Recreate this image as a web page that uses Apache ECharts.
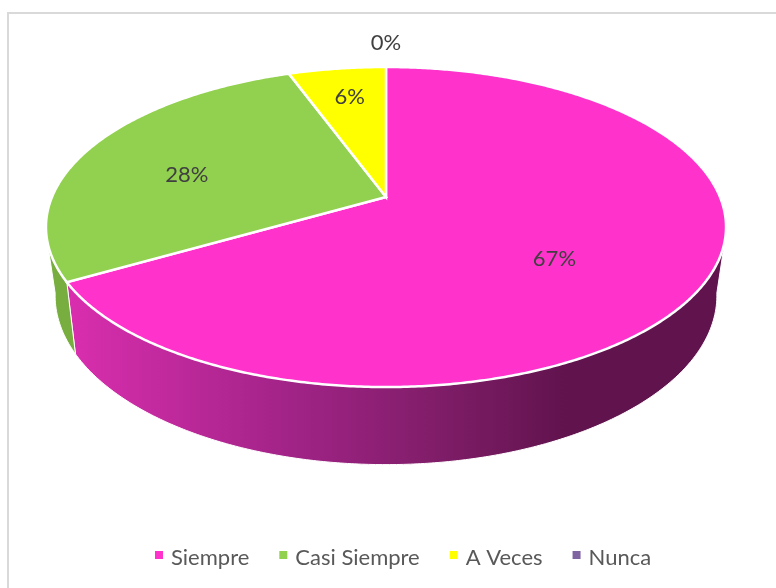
<!DOCTYPE html>
<html>
<head>
<meta charset="utf-8">
<style>
  html, body { margin: 0; padding: 0; background: #fff; }
  #chart { width: 776px; height: 588px; }
</style>
<script src="https://cdn.jsdelivr.net/npm/echarts@6/dist/echarts.min.js"></script>
</head>
<body>
<div id="chart"></div>
<script>
// survey answers, the picture shows them as rounded percentages
var categories = ['Siempre', 'Casi Siempre', 'A Veces', 'Nunca']
var answers = [12, 5, 1, 0]

var colors = ['#ff33cc', '#92d050', '#ffff00', '#8064a2']
var labelColor = '#404040'
var legendColor = '#595959'

// tilted disc: perspective of the top and bottom faces of the cylinder
var cx = 386
var tilt = 0.1875
var topFace = { y: 197, a: 154.4, b: 334 }
var bottomFace = { y: 264, a: 163, b: 325 }
var wallRight = [105, 100] // angle where the wall leaves the silhouette, top / bottom face
var wallLeft = [255, 260]

// label placement per slice, as radius fraction and angle shift
var labelRadius = [0.6, 0.63, 0.75, 1.225]
var labelShift = [8.6, -6.6, 0.5, 0]

var total = answers.reduce(function (s, v) { return s + v }, 0)

function project (face, deg, r) {
  var t = deg * Math.PI / 180
  var u = r * Math.sin(t)
  var v = r * Math.cos(t)
  var d = 1 + tilt * v
  return [cx + face.b * u / d, face.y - face.a * v / d]
}

function arc (face, from, to) {
  var pts = []
  var n = Math.max(1, Math.ceil(Math.abs(to - from) * 2))
  for (var i = 0; i <= n; i++) {
    pts.push(project(face, from + (to - from) * i / n, 1))
  }
  return pts
}

function sliceStart (index) {
  var s = 0
  for (var i = 0; i < index; i++) s += answers[i]
  return s / total * 360
}

function renderSlice (index) {
  return function (params, api) {
    var value = api.value(0)
    var start = sliceStart(index)
    var end = start + value / total * 360
    var children = []

    if (value > 0) {
      // front wall, only the part of the slice facing us
      var topFrom = Math.max(start, wallRight[0])
      var topTo = Math.min(end, wallLeft[0])
      if (topFrom < topTo) {
        var bottomFrom = start > wallRight[0] ? start : wallRight[1]
        var bottomTo = end < wallLeft[0] ? end : wallLeft[1]
        var wallFill = index === 0 ? {
          type: 'linear',
          global: true,
          x: 70,
          y: 0,
          x2: 570,
          y2: 0,
          colorStops: [
            { offset: 0, color: '#d92eae' },
            { offset: 0.45, color: '#a02386' },
            { offset: 0.7, color: '#841e6c' },
            { offset: 1, color: '#60134d' }
          ]
        } : '#78ad3f'
        children.push({
          type: 'polygon',
          z2: 1,
          shape: { points: arc(topFace, topFrom, topTo).concat(arc(bottomFace, bottomTo, bottomFrom)) },
          style: { fill: wallFill, stroke: '#fff', lineWidth: 1 }
        })
      }
      // top face
      children.push({
        type: 'polygon',
        z2: 2,
        shape: { points: [project(topFace, 0, 0)].concat(arc(topFace, start, end)) },
        style: { fill: colors[index], stroke: '#fff', lineWidth: 2.5 }
      })
    }

    var pos = project(topFace, (start + end) / 2 + labelShift[index], labelRadius[index])
    children.push({
      type: 'text',
      z2: 3,
      x: pos[0],
      y: pos[1],
      style: {
        text: Math.round(value / total * 100) + '%',
        fill: labelColor,
        font: '22px Lato',
        align: 'center',
        verticalAlign: 'middle'
      }
    })
    return { type: 'group', children: children }
  }
}

var series = categories.map(function (name, i) {
  return {
    type: 'custom',
    name: name,
    coordinateSystem: 'none',
    itemStyle: { color: colors[i] },
    data: [[answers[i]]],
    renderItem: renderSlice(i)
  }
})

var chart = echarts.init(document.getElementById('chart'))
chart.setOption({
  animation: false,
  tooltip: { show: false },
  legend: {
    left: 155,
    top: 547,
    padding: 0,
    icon: 'rect',
    itemWidth: 8,
    itemHeight: 8,
    itemGap: 30,
    selectedMode: false,
    formatter: '{t|{name}}',
    textStyle: {
      rich: {
        t: { color: legendColor, fontFamily: 'Lato', fontSize: 22, padding: [6, 0, 0, 3] }
      }
    },
    data: categories
  },
  graphic: [{
    type: 'polyline',
    silent: true,
    shape: { points: [[8, 600], [8, 13], [790, 13]] },
    style: { fill: 'none', stroke: '#d9d9d9', lineWidth: 2 }
  }],
  series: series
})

window.addEventListener('resize', function () {
  chart.resize()
})
</script>
</body>
</html>
